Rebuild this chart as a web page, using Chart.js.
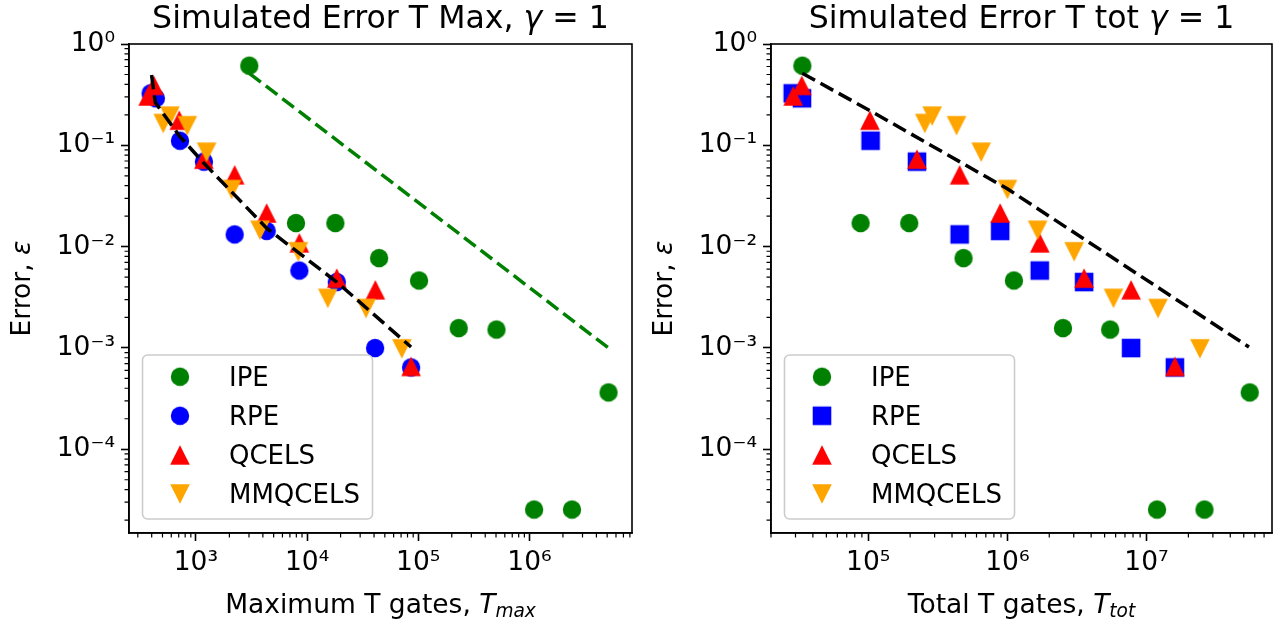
<!DOCTYPE html>
<html>
<head>
<meta charset="utf-8">
<script src="https://cdn.jsdelivr.net/npm/chart.js@4.4.1/dist/chart.umd.min.js"></script>
<style>
  html, body { margin: 0; padding: 0; background: #fff; }
  #wrap { position: relative; width: 1286px; height: 628px; }
  .box { position: absolute; top: 0; width: 643px; height: 628px; }
</style>
</head>
<body>
<div id="wrap">
  <div class="box" style="left:0"><canvas id="left" width="643" height="628"></canvas></div>
  <div class="box" style="left:643px"><canvas id="right" width="643" height="628"></canvas></div>
</div>
<script>
// ---- data ----
const methods = ["IPE", "RPE", "QCELS", "MMQCELS"];

const ipeTmax = [3020, 7940, 17950, 44400, 101600, 231000, 505000, 1.10e6, 2.41e6, 5.14e6];
const ipeTtot = [33600, 88100, 197000, 484000, 1.114e6, 2.51e6, 5.48e6, 1.19e7, 2.61e7, 5.52e7];
const ipeErr  = [0.611, 0.0171, 0.0171, 0.0077, 0.00463, 0.00157, 0.00152, 2.54e-5, 2.54e-5, 3.64e-4];

const rpeTmax = [391, 436, 718, 1180, 2230, 4325, 8510, 18480, 40850, 86100];
const rpeTtot = [28650, 33400, 104000, 224000, 454000, 887000, 1.71e6, 3.56e6, 7.75e6, 1.60e7];
const rpeErr  = [0.326, 0.291, 0.111, 0.069, 0.0132, 0.0143, 0.00581, 0.00447, 0.000998, 0.000642];

const qcelsTmax = [372, 419, 708, 1180, 2230, 4325, 8510, 18480, 41100, 86100];
const qcelsTtot = [28900, 33300, 102800, 224000, 454000, 887000, 1.71e6, 3.56e6, 7.75e6, 1.60e7];
const qcelsErr  = [0.307, 0.390, 0.177, 0.073, 0.0512, 0.0215, 0.0109, 0.00489, 0.00375, 0.000657];

const mmTmax = [508, 583, 836, 1247, 2095, 3770, 8340, 15340, 33900, 71100];
const mmTtot = [255000, 288000, 431000, 648000, 1.0e6, 1.65e6, 3.02e6, 5.79e6, 1.21e7, 2.42e7];
const mmErr  = [0.164, 0.194, 0.156, 0.0855, 0.0366, 0.0145, 0.00889, 0.00308, 0.00245, 0.00098];

// dashed reference lines
const ipeFitX = [3020, 5.14e6];
const ipeFitY = [0.514, 0.000998];
const fitTmaxX = [399, 431, 718, 1180, 4325, 18480, 86100];
const fitTmaxY = [0.495, 0.264, 0.122, 0.0666, 0.0152, 0.00447, 0.00102];
const fitTtotX = [33570, 102800, 1.0e6, 5.45e7];
const fitTtotY = [0.514, 0.220, 0.0372, 0.00102];

// axes
const yTickExp = [0, -1, -2, -3, -4];
const xTickExpMax = [3, 4, 5, 6];
const xTickExpTot = [5, 6, 7];
const yRange = [1.49e-5, 1];
const xRangeMax = [250, 8.36e6];
const xRangeTot = [2.0e4, 7.98e7];

const FONT = "'DejaVu Sans', sans-serif";
const colors = { IPE: "#008000", RPE: "#0000ff", QCELS: "#ff0000", MMQCELS: "#ffa500" };

function pts(xs, ys) { return xs.map((x, i) => ({ x: x, y: ys[i] })); }

function sup(n) {
  const m = { "-": "\u207B", "0": "\u2070", "1": "\u00B9", "2": "\u00B2", "3": "\u00B3",
              "4": "\u2074", "5": "\u2075", "6": "\u2076", "7": "\u2077", "8": "\u2078", "9": "\u2079" };
  return String(n).split("").map(c => m[c]).join("");
}

// matplotlib-like marker glyphs
function marker(shape, color) {
  const c = document.createElement("canvas");
  c.width = 24; c.height = 24;
  const g = c.getContext("2d");
  const m = 12;
  g.fillStyle = color;
  g.beginPath();
  if (shape === "circle") g.arc(m, m, 9.2, 0, 2 * Math.PI);
  else if (shape === "square") g.rect(m - 9.3, m - 9.3, 18.6, 18.6);
  else if (shape === "up") { g.moveTo(m, m - 9.8); g.lineTo(m + 9.8, m + 9.8); g.lineTo(m - 9.8, m + 9.8); g.closePath(); }
  else { g.moveTo(m, m + 9.8); g.lineTo(m + 9.8, m - 9.8); g.lineTo(m - 9.8, m - 9.8); g.closePath(); }
  g.fill();
  return c;
}

function runFont(r, size) {
  return (r.it ? "italic " : "") + (r.sub ? size * 0.7 : size) + "px " + FONT;
}
function drawRuns(ctx, runs, x, y, size) {
  let w = 0;
  runs.forEach(r => { ctx.font = runFont(r, size); r.w = ctx.measureText(r.t).width; w += r.w; });
  let cx = x - w / 2;
  ctx.textAlign = "left";
  ctx.textBaseline = "alphabetic";
  runs.forEach(r => {
    ctx.font = runFont(r, size);
    ctx.fillText(r.t, cx, y + (r.sub ? size * 0.16 : 0));
    cx += r.w;
  });
}

function minorValues(min, max) {
  const out = [];
  for (let e = Math.floor(Math.log10(min)); e <= Math.ceil(Math.log10(max)); e++) {
    for (let k = 2; k <= 9; k++) {
      const v = k * Math.pow(10, e);
      if (v >= min && v <= max) out.push(v);
    }
  }
  return out;
}

const decor = {
  id: "decor",
  afterDraw(chart, args, opts) {
    const ctx = chart.ctx, a = chart.chartArea, sx = chart.scales.x, sy = chart.scales.y;
    ctx.save();
    ctx.strokeStyle = "#000";
    // frame
    ctx.lineWidth = 1.6;
    ctx.strokeRect(a.left, a.top, a.right - a.left, a.bottom - a.top);
    // minor ticks
    ctx.lineWidth = 1.2;
    ctx.beginPath();
    minorValues(sx.min, sx.max).forEach(v => {
      const p = sx.getPixelForValue(v);
      ctx.moveTo(p, a.bottom); ctx.lineTo(p, a.bottom + 4.5);
    });
    minorValues(sy.min, sy.max).forEach(v => {
      const p = sy.getPixelForValue(v);
      ctx.moveTo(a.left, p); ctx.lineTo(a.left - 4.5, p);
    });
    ctx.stroke();

    // legend
    const items = chart.data.datasets.filter(d => !d.showLine);
    const bx = a.left + 13.5, by = 355, bw = 230, bh = 164;
    ctx.beginPath();
    ctx.roundRect(bx, by, bw, bh, 5);
    ctx.fillStyle = "rgba(255,255,255,0.8)";
    ctx.fill();
    ctx.strokeStyle = "#cccccc";
    ctx.lineWidth = 1.6;
    ctx.stroke();
    ctx.fillStyle = "#000";
    ctx.font = "26px " + FONT;
    ctx.textAlign = "left";
    ctx.textBaseline = "alphabetic";
    items.forEach((d, i) => {
      const cy = by + 21.7 + i * 39.1;
      const img = d.pointStyle;
      ctx.drawImage(img, bx + 37.5 - img.width / 2, cy - img.height / 2);
      ctx.fillText(d.label, bx + 86.5, cy + 9.4);
    });

    // titles
    ctx.fillStyle = "#000";
    const mid = (a.left + a.right) / 2;
    drawRuns(ctx, opts.title, mid, 27.5, 31.6);
    drawRuns(ctx, opts.xTitle, mid, 613, 26.5);
    ctx.translate(a.left - 99, (a.top + a.bottom) / 2);
    ctx.rotate(-Math.PI / 2);
    drawRuns(ctx, opts.yTitle, 0, 0, 26.5);
    ctx.restore();
  }
};

function scatterSet(label, data, img, order) {
  return { label: label, data: data, pointStyle: img, pointRadius: 10, pointHoverRadius: 10,
           backgroundColor: colors[label], borderWidth: 0, showLine: false, order: order };
}
function lineSet(data, color) {
  return { data: data, showLine: true, pointRadius: 0, borderColor: color, borderWidth: 3.5,
           borderDash: [14.5, 6.3], borderCapStyle: "butt", fill: false, order: 0 };
}

function logAxis(range, exps, fitFn) {
  return {
    type: "logarithmic",
    min: range[0], max: range[1],
    afterBuildTicks: s => { s.ticks = exps.map(e => ({ value: Math.pow(10, e) })); },
    afterFit: fitFn,
    ticks: {
      autoSkip: false, maxRotation: 0, minRotation: 0, padding: 6, color: "#000",
      font: { family: "DejaVu Sans", size: 26.5 },
      callback: v => "10" + sup(Math.round(Math.log10(v)))
    },
    grid: { display: true, drawOnChartArea: false, drawTicks: true, tickLength: 8,
            tickWidth: 1.6, tickColor: "#000" },
    border: { display: true, color: "#000", width: 1.6 }
  };
}

function makeChart(id, datasets, xRange, xExps, yWidth, padRight, texts) {
  return new Chart(document.getElementById(id), {
    type: "scatter",
    data: { datasets: datasets },
    options: {
      responsive: false, animation: false, events: [],
      layout: { padding: { top: 44, right: padRight, left: 0, bottom: 0 } },
      plugins: { legend: { display: false }, tooltip: { enabled: false }, decor: texts },
      scales: {
        x: logAxis(xRange, xExps, s => { s.height = 95; }),
        y: logAxis(yRange, yTickExp, s => { s.width = yWidth; })
      }
    },
    plugins: [decor]
  });
}

makeChart("left", [
  scatterSet("IPE", pts(ipeTmax, ipeErr), marker("circle", colors.IPE), 4),
  scatterSet("RPE", pts(rpeTmax, rpeErr), marker("circle", colors.RPE), 3),
  scatterSet("QCELS", pts(qcelsTmax, qcelsErr), marker("up", colors.QCELS), 2),
  scatterSet("MMQCELS", pts(mmTmax, mmErr), marker("down", colors.MMQCELS), 1),
  lineSet(pts(ipeFitX, ipeFitY), "#008000"),
  lineSet(pts(fitTmaxX, fitTmaxY), "#000000")
], xRangeMax, xTickExpMax, 129, 11, {
  title: [{ t: "Simulated Error T Max, " }, { t: "\u03B3", it: true }, { t: " = 1" }],
  xTitle: [{ t: "Maximum T gates, " }, { t: "T", it: true }, { t: "max", it: true, sub: true }],
  yTitle: [{ t: "Error, " }, { t: "\u03B5", it: true }]
});

makeChart("right", [
  scatterSet("IPE", pts(ipeTtot, ipeErr), marker("circle", colors.IPE), 4),
  scatterSet("RPE", pts(rpeTtot, rpeErr), marker("square", colors.RPE), 3),
  scatterSet("QCELS", pts(qcelsTtot, qcelsErr), marker("up", colors.QCELS), 2),
  scatterSet("MMQCELS", pts(mmTtot, mmErr), marker("down", colors.MMQCELS), 1),
  lineSet(pts(fitTtotX, fitTtotY), "#000000")
], xRangeTot, xTickExpTot, 128, 14, {
  title: [{ t: "Simulated Error T tot " }, { t: "\u03B3", it: true }, { t: " = 1" }],
  xTitle: [{ t: "Total T gates, " }, { t: "T", it: true }, { t: "tot", it: true, sub: true }],
  yTitle: [{ t: "Error, " }, { t: "\u03B5", it: true }]
});
</script>
</body>
</html>
